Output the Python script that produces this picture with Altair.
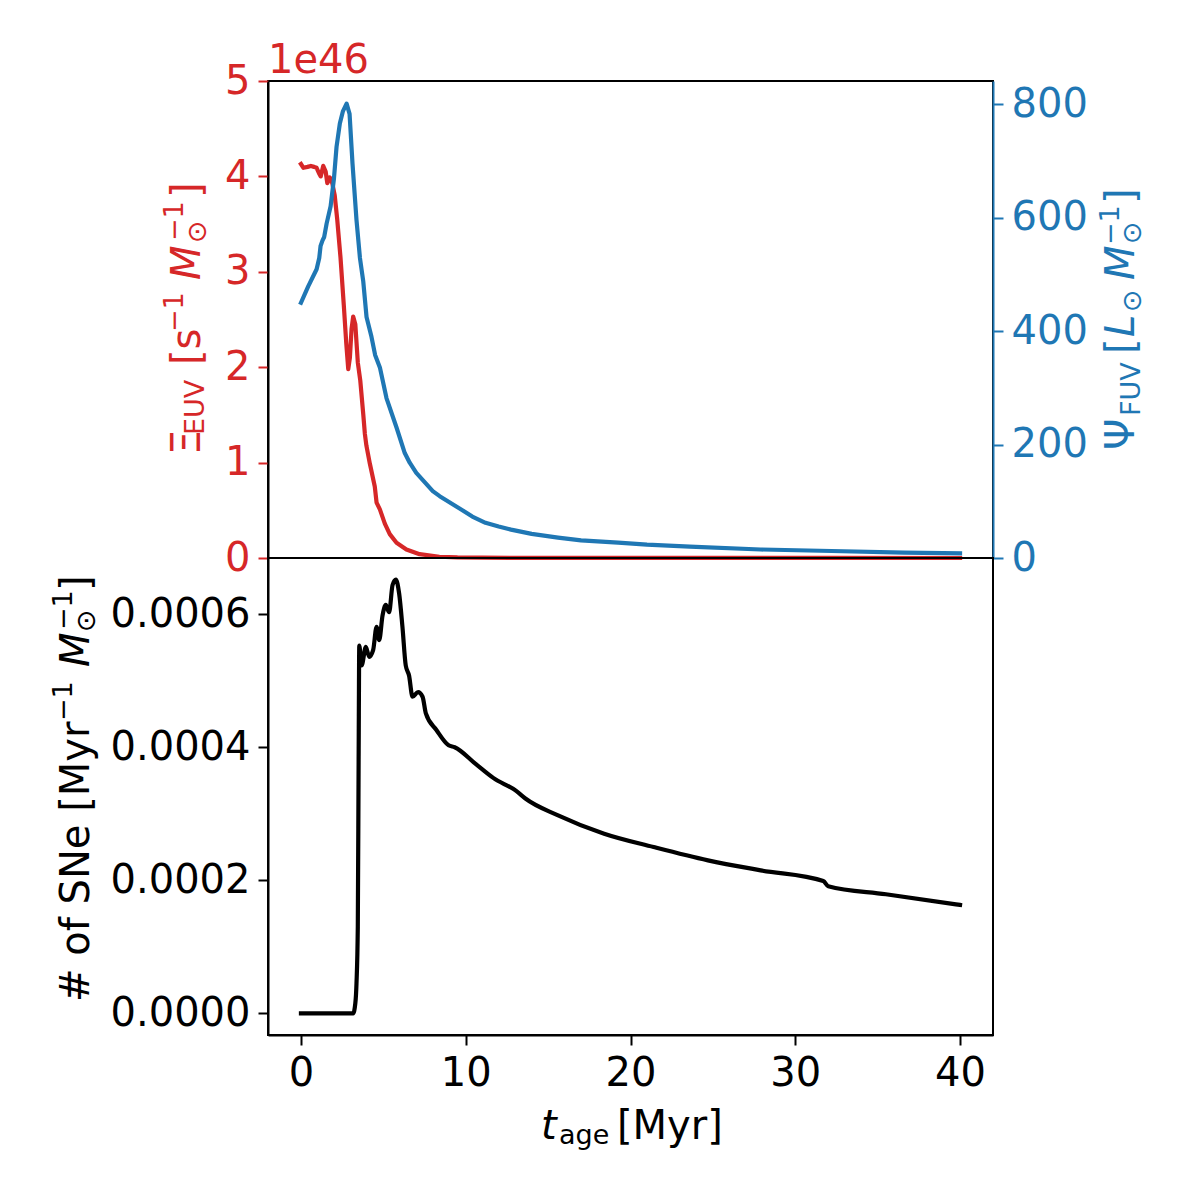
import altair as alt
import pandas as pd

# ---------------- data ----------------
# EUV photon rate per unit mass, in units of 1e46 s^-1 Msun^-1
t_euv = [0, 0.15, 0.4, 0.6, 0.8, 0.95, 1.1, 1.2, 1.35, 1.5,
         1.6, 1.75, 1.9, 2.05, 2.2, 2.4, 2.6, 2.75, 2.87, 2.97,
         3.07, 3.17, 3.3, 3.45, 3.6, 3.78, 3.88, 3.97, 4.18, 4.48,
         4.59, 4.79, 5.09, 5.39, 5.8, 6.4, 7.2, 8.4, 9.5, 11,
         14, 18, 25, 32, 40]
xi_euv = [4.13, 4.09, 4.10, 4.11, 4.10, 4.09, 4.03, 4.00, 4.11, 4.05,
          3.93, 3.99, 3.93, 3.80, 3.55, 3.15, 2.65, 2.25, 1.98, 2.10,
          2.40, 2.53, 2.45, 2.05, 1.86, 1.51, 1.30, 1.18, 0.99, 0.75,
          0.58, 0.51, 0.36, 0.25, 0.16, 0.09, 0.04, 0.013, 0.006, 0.003,
          0.0015, 0.0008, 0.0004, 0.0003, 0.0002]

# FUV luminosity per unit mass [Lsun Msun^-1]
t_fuv = [0, 0.44, 0.95, 1.11, 1.19, 1.31, 1.41, 1.56, 1.8, 2.0,
         2.16, 2.36, 2.55, 2.77, 2.95, 3.13, 3.37, 3.58, 3.78, 3.98,
         4.28, 4.5, 4.79, 5.19, 5.8, 6.3, 6.6, 7.0, 8.0, 8.42,
         9.7, 10.4, 11.2, 12.0, 12.75, 14.0, 15.6, 17.0, 19.25, 21.0,
         23.6, 27.9, 32.2, 36.6, 40]
psi_fuv = [450, 479, 509, 529, 550, 560, 566, 590, 620, 668,
           725, 766, 788, 801, 783, 695, 596, 529, 488, 425,
           390, 358, 336, 282, 230, 185, 168, 150, 118, 109,
           86, 73, 62, 55.5, 50, 42.5, 36, 31, 27, 23.5,
           20, 15, 12.3, 9.4, 8.2]

# supernova rate per unit mass [Myr^-1 Msun^-1]
t_sne = [0, 3.17, 3.3, 3.37, 3.45, 3.5, 3.54, 3.68, 3.94, 4.14,
         4.38, 4.59, 4.75, 4.95, 5.15, 5.35, 5.56, 5.76, 5.96, 6.16,
         6.36, 6.56, 6.77, 7.11, 7.38, 7.58, 8.22, 8.96, 9.33, 10.6,
         11.67, 13.08, 13.62, 15.57, 18.4, 21.4, 24.7, 27.9, 31.7, 32.0,
         35.5, 40]
n_sne = [0, 0, 0.000015, 0.0000447, 0.00013, 0.00038, 0.000553, 0.000523, 0.000551, 0.000536,
         0.000546, 0.000581, 0.000561, 0.000598, 0.000614, 0.000603, 0.000644, 0.000652, 0.000631, 0.000581,
         0.000523, 0.000508, 0.000476, 0.000483, 0.000476, 0.000451, 0.000426, 0.000403, 0.000400, 0.000375,
         0.000354, 0.000334, 0.000323, 0.000298, 0.000270, 0.000250, 0.000230, 0.000215, 0.000199, 0.000191,
         0.000179, 0.000163]

x_ticks = [0, 10, 20, 30, 40]
euv_ticks = [0, 1, 2, 3, 4, 5]
fuv_ticks = [0, 200, 400, 600, 800]
sne_ticks = [0, 0.0002, 0.0004, 0.0006]
euv_offset_label = "1e46"

# ---------------- styling ----------------
FONT = "DejaVu Sans"
RED = "#d62728"
BLUE = "#1f77b4"
BIG = 40
SMALL = 27
W, H = 725, 477

df_euv = pd.DataFrame({"t": t_euv, "xi": xi_euv})
df_fuv = pd.DataFrame({"t": t_fuv, "psi": psi_fuv})
df_sne = pd.DataFrame({"t": t_sne, "n": n_sne})

xscale = alt.Scale(domain=[-2, 42], nice=False, zero=False)


def piece(s, x, y, size, color, angle=0, italic=False):
    kw = dict(align="left", baseline="alphabetic", font=FONT, fontSize=size, color=color)
    if angle:
        kw["angle"] = angle
    if italic:
        kw["fontStyle"] = "italic"
    return alt.Chart(pd.DataFrame({"label": [s]})).mark_text(**kw).encode(
        x=alt.value(x), y=alt.value(y), text="label:N")


line_kw = dict(strokeWidth=4.2, strokeJoin="round", strokeCap="square")

red = alt.Chart(df_euv).mark_line(color=RED, **line_kw).encode(
    x=alt.X("t:Q", scale=xscale, axis=None),
    y=alt.Y("xi:Q", scale=alt.Scale(domain=[0, 5], nice=False, zero=False),
            axis=alt.Axis(orient="left", title="", values=euv_ticks, format="d",
                          labelColor=RED, tickColor=RED, domainColor="black")),
)

blue = alt.Chart(df_fuv).mark_line(color=BLUE, **line_kw).encode(
    x=alt.X("t:Q", scale=xscale, axis=None),
    y=alt.Y("psi:Q", scale=alt.Scale(domain=[0, 841], nice=False, zero=False),
            axis=alt.Axis(orient="right", title="", values=fuv_ticks, format="d",
                          labelColor=BLUE, tickColor=BLUE, domainColor=BLUE)),
)

top_text = [
    piece(euv_offset_label, 0, -8, BIG, RED),
    # left title: Xi_EUV [s^-1 M_sun^-1]
    piece("Ξ", -68, 374, BIG, RED, 270),
    piece("EUV", -64, 354, SMALL, RED, 270),
    piece("[s", -68, 284, BIG, RED, 270),
    piece("−1", -85, 251, SMALL, RED, 270),
    piece("M", -68, 199, BIG, RED, 270, True),
    piece("⊙", -62, 162, SMALL, RED, 270),
    piece("−1", -85, 160, SMALL, RED, 270),
    piece("]", -68, 117, BIG, RED, 270),
    # right title: Psi_FUV [L_sun M_sun^-1]
    piece("Ψ", 866, 369, BIG, BLUE, 270),
    piece("FUV", 872, 335, SMALL, BLUE, 270),
    piece("[", 866, 273, BIG, BLUE, 270),
    piece("L", 866, 256, BIG, BLUE, 270, True),
    piece("⊙", 873, 231, SMALL, BLUE, 270),
    piece("M", 866, 199, BIG, BLUE, 270, True),
    piece("⊙", 873, 163, SMALL, BLUE, 270),
    piece("−1", 851, 164, SMALL, BLUE, 270),
    piece("]", 866, 123, BIG, BLUE, 270),
]

top = alt.layer(red, blue, *top_text).resolve_scale(y="independent").properties(width=W, height=H)

black = alt.Chart(df_sne).mark_line(color="black", interpolate="monotone", **line_kw).encode(
    x=alt.X("t:Q", scale=xscale,
            axis=alt.Axis(orient="bottom", title="", values=x_ticks, format="d")),
    y=alt.Y("n:Q", scale=alt.Scale(domain=[-0.0000326, 0.0006846], nice=False, zero=False),
            axis=alt.Axis(orient="left", title="", values=sne_ticks, format=".4f")),
)

bottom_text = [
    # y title: # of SNe [Myr^-1 M_sun^-1]
    piece("# of SNe [Myr", -179, 444, BIG, "black", 270),
    piece("−1", -196, 163, SMALL, "black", 270),
    piece("M", -179, 109, BIG, "black", 270, True),
    piece("⊙", -173, 74, SMALL, "black", 270),
    piece("−1", -196, 72, SMALL, "black", 270),
    piece("]", -179, 33, BIG, "black", 270),
    # x title: t_age [Myr]
    piece("t", 273, 581, BIG, "black", 0, True),
    piece("age", 291, 586, SMALL, "black"),
    piece("[Myr]", 349, 581, BIG, "black"),
]

bottom = alt.layer(black, *bottom_text).properties(width=W, height=H)

chart = (
    alt.vconcat(top, bottom, spacing=0, bounds="flush")
    .properties(padding={"left": 41, "top": 32, "right": 10, "bottom": 10})
    .configure_view(stroke="black", strokeWidth=2)
    .configure_axis(
        grid=False,
        labelFont=FONT,
        labelFontSize=BIG,
        labelPadding=8,
        tickSize=10,
        tickWidth=2,
        domainWidth=2,
        labelColor="black",
        tickColor="black",
        domainColor="black",
    )
)

chart.save("out.html", embed_options={"renderer": "svg", "actions": False})
